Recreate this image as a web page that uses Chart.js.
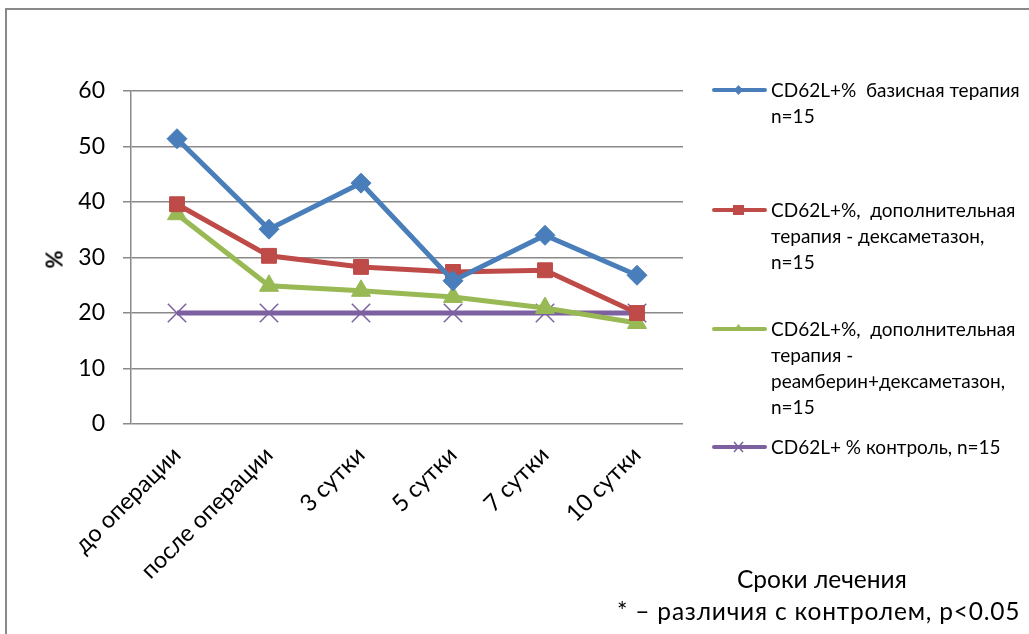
<!DOCTYPE html>
<html>
<head>
<meta charset="utf-8">
<script src="https://cdn.jsdelivr.net/npm/chart.js@4/dist/chart.umd.min.js"></script>
<style>
    body { margin: 0; background: #fff; }
    #wrap { position: relative; width: 1029px; height: 634px; overflow: hidden; background: #fff; font-family: Lato, "Noto Sans", sans-serif; }
    #frame { position: absolute; left: 5px; top: 8px; width: 1100px; height: 700px; border-left: 2px solid #898989; border-top: 2px solid #898989; }
    #chart { position: absolute; left: 0; top: 0; }
    .legendItem { position: absolute; left: 712px; font-size: 19px; line-height: 26px; color: #000; }
    .legendItem svg { position: absolute; left: 0; top: 1px; }
    .legendItem span { position: absolute; left: 59px; top: 0px; width: 270px; white-space: pre-wrap; }
    #yTitle { position: absolute; left: 45px; top: 246px; font-size: 22px; font-weight: bold; transform: rotate(-90deg); }
    #xTitle { position: absolute; left: 737px; top: 564px; font-size: 24.5px; }
    #note { position: absolute; left: 617px; top: 596px; font-size: 24.5px; letter-spacing: 0.8px; white-space: nowrap; }
</style>
</head>
<body>
<div id="wrap">
    <div id="frame"></div>
    <canvas id="chart" width="1029" height="634"></canvas>
    <div id="legend"></div>
    <div id="yTitle">%</div>
    <div id="xTitle">Сроки лечения</div>
    <div id="note">* – различия с контролем, p&lt;0.05</div>
</div>
<script>
// categories (treatment periods)
const periods = ['до операции', 'после операции', '3 сутки', '5 сутки', '7 сутки', '10 сутки'];

// series values, %
const basicTherapy = [51.4, 35.1, 43.4, 25.8, 34.0, 26.8];
const dexamethasone = [39.6, 30.3, 28.3, 27.4, 27.7, 20.0];
const reamberinDexa = [37.8, 24.9, 24.0, 22.9, 20.9, 18.2];
const control = [20, 20, 20, 20, 20, 20];

// legend texts
const seriesNames = [
    'CD62L+%  базисная терапия\nn=15',
    'CD62L+%,  дополнительная\nтерапия - дексаметазон,\nn=15',
    'CD62L+%,  дополнительная\nтерапия -\nреамберин+дексаметазон,\nn=15',
    'CD62L+ % контроль, n=15'
];
const legendTops = [89, 209, 328, 446];

const datasets = [
    { label: seriesNames[0], data: basicTherapy, borderColor: '#4a7ebb', backgroundColor: '#4a7ebb', pointStyle: 'rectRot', pointRadius: 10 },
    { label: seriesNames[1], data: dexamethasone, borderColor: '#be4b48', backgroundColor: '#be4b48', pointStyle: 'rect', pointRadius: 10.5 },
    { label: seriesNames[2], data: reamberinDexa, borderColor: '#98b954', backgroundColor: '#98b954', pointStyle: 'triangle', pointRadius: 11 },
    { label: seriesNames[3], data: control, borderColor: '#7d60a0', backgroundColor: '#7d60a0', pointStyle: 'crossRot', pointRadius: 13, pointBorderWidth: 1.5 }
];
datasets.forEach(ds => {
    ds.borderWidth = 5;
    ds.tension = 0;
    ds.pointBorderColor = ds.borderColor;
    ds.pointHoverRadius = ds.pointRadius;
    if (!ds.pointBorderWidth) ds.pointBorderWidth = 1;
});

const ctx = document.getElementById('chart').getContext('2d');
new Chart(ctx, {
    type: 'line',
    data: { labels: periods, datasets: datasets },
    options: {
        responsive: false,
        animation: false,
        devicePixelRatio: 1,
        layout: { padding: { top: 91, right: 346, left: 0, bottom: 0 } },
        plugins: {
            legend: { display: false },
            tooltip: { enabled: false }
        },
        scales: {
            x: {
                offset: true,
                grid: { display: false },
                border: { display: false },
                ticks: {
                    minRotation: 45,
                    maxRotation: 45,
                    color: '#000',
                    padding: 9,
                    font: { family: 'Lato', size: 23.5 }
                },
                afterFit: function (scale) { scale.height = 210; }
            },
            y: {
                min: 0,
                max: 60,
                ticks: {
                    stepSize: 10,
                    color: '#000',
                    padding: 18,
                    font: { family: 'Lato', size: 23 }
                },
                grid: { color: '#898989', lineWidth: 1.5, tickLength: 8 },
                border: { color: '#898989', width: 1.5 },
                afterFit: function (scale) { scale.width = 131; }
            }
        }
    }
});

// legend built from the datasets
function markerSvg(style, color) {
    switch (style) {
        case 'rectRot':
            return `<polygon points="26.5,7 31,12 26.5,17 22,12" fill="${color}"/>`;
        case 'rect':
            return `<rect x="21" y="7" width="11" height="10" fill="${color}"/>`;
        case 'triangle':
            return `<polygon points="26.5,7 31,13 22,13" fill="${color}"/>`;
        default:
            return `<path d="M22,7 L31,17 M31,7 L22,17" stroke="${color}" stroke-width="1.5"/>`;
    }
}
let legendHtml = '';
datasets.forEach((ds, i) => {
    legendHtml += `<div class="legendItem" style="top:${legendTops[i] - 12}px">
        <svg width="56" height="24"><line x1="2" y1="12" x2="53" y2="12" stroke="${ds.borderColor}" stroke-width="4" stroke-linecap="round"/>${markerSvg(ds.pointStyle, ds.borderColor)}</svg>
        <span>${ds.label}</span></div>`;
});
document.getElementById('legend').innerHTML = legendHtml;
</script>
</body>
</html>
